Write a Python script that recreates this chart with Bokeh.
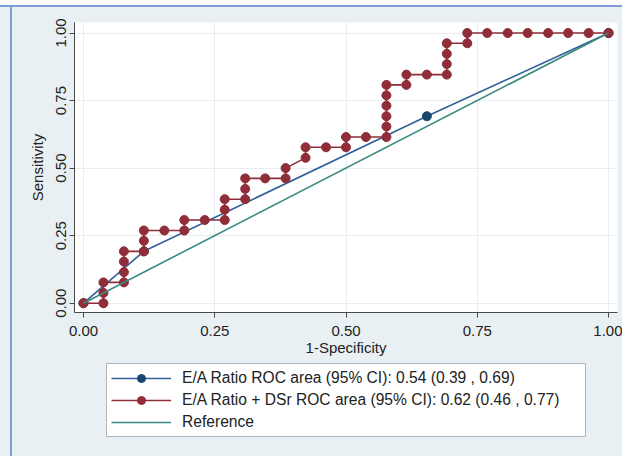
from bokeh.plotting import figure
from bokeh.layouts import column
from bokeh.models import Legend, LegendItem, Range1d, FixedTicker
from bokeh.embed import file_html
from bokeh.resources import INLINE

# ---- data ----
tick_values = [0.0, 0.25, 0.5, 0.75, 1.0]
tick_labels = ["0.00", "0.25", "0.50", "0.75", "1.00"]

# E/A Ratio ROC curve (1-specificity, sensitivity)
ea_fpr = [0.0, 0.115, 0.654, 1.0]
ea_tpr = [0.0, 0.192, 0.692, 1.0]

# E/A Ratio + DSr ROC curve
dsr_fpr = [0.0, 0.038, 0.038, 0.038, 0.077, 0.077, 0.077, 0.077, 0.115, 0.115,
           0.115, 0.154, 0.192, 0.192, 0.231, 0.269, 0.269, 0.269, 0.308, 0.308,
           0.308, 0.346, 0.385, 0.385, 0.423, 0.423, 0.462, 0.5, 0.5, 0.538,
           0.577, 0.577, 0.577, 0.577, 0.577, 0.577, 0.615, 0.615, 0.654, 0.692,
           0.692, 0.692, 0.692, 0.731, 0.731, 0.769, 0.808, 0.846, 0.885, 0.923,
           0.962, 1.0]
dsr_tpr = [0.0, 0.0, 0.038, 0.077, 0.077, 0.115, 0.154, 0.192, 0.192, 0.231,
           0.269, 0.269, 0.269, 0.308, 0.308, 0.308, 0.346, 0.385, 0.385, 0.423,
           0.462, 0.462, 0.462, 0.5, 0.538, 0.577, 0.577, 0.577, 0.615, 0.615,
           0.615, 0.654, 0.692, 0.731, 0.769, 0.808, 0.808, 0.846, 0.846, 0.846,
           0.885, 0.923, 0.962, 0.962, 1.0, 1.0, 1.0, 1.0, 1.0, 1.0,
           1.0, 1.0]

ref_x = [0.0, 1.0]
ref_y = [0.0, 1.0]

legend_labels = [
    "E/A Ratio ROC area (95% CI): 0.54 (0.39 , 0.69)",
    "E/A Ratio + DSr ROC area (95% CI): 0.62 (0.46 , 0.77)",
    "Reference",
]
x_title = "1-Specificity"
y_title = "Sensitivity"

# ---- styles ----
PANEL = "#e9f0f3"
EDGE = "#7f9dd9"
BLUE_LINE = "#33619a"
BLUE_MARK = "#1a476f"
RED = "#8f2d38"
TEAL = "#3a8a80"
FONT = "Liberation Sans"

LEFT_EDGE = ("linear-gradient(to right, " + PANEL + " 0px, " + PANEL + " 10px, " + EDGE
             + " 10px, " + EDGE + " 12px, " + PANEL + " 12px)")
TOP_EDGE = ("linear-gradient(to bottom, #ffffff 0px, #ffffff 5px, " + EDGE + " 5px, "
            + EDGE + " 7px, rgba(0,0,0,0) 7px)")


def style_curves(fig):
    r1 = fig.line(ea_fpr, ea_tpr, line_color=BLUE_LINE, line_width=1.6)
    r2 = fig.scatter(ea_fpr, ea_tpr, size=9, fill_color=BLUE_MARK, line_color=BLUE_MARK)
    r3 = fig.line(dsr_fpr, dsr_tpr, line_color=RED, line_width=1.6)
    r4 = fig.scatter(dsr_fpr, dsr_tpr, size=9, fill_color=RED, line_color=RED)
    r5 = fig.line(ref_x, ref_y, line_color=TEAL, line_width=1.6)
    return r1, r2, r3, r4, r5


# ---- main plot ----
p = figure(width=622, height=360, output_backend="svg", toolbar_location=None,
           x_range=Range1d(-0.0171, 1.0171), y_range=Range1d(-0.0344, 1.0389),
           min_border_left=74, min_border_right=5, min_border_top=22,
           min_border_bottom=48)
p.border_fill_alpha = 0
p.background_fill_color = "white"
p.outline_line_color = None
p.styles = {"background-image": TOP_EDGE + ", " + LEFT_EDGE}

for ax in (p.xaxis[0], p.yaxis[0]):
    ax.ticker = FixedTicker(ticks=tick_values)
    ax.major_label_overrides = dict(zip(tick_values, tick_labels))
    ax.axis_line_color = "#4a4a4a"
    ax.major_tick_line_color = "#4a4a4a"
    ax.major_tick_out = 5
    ax.major_tick_in = 0
    ax.minor_tick_line_color = None
    ax.major_label_text_font = FONT
    ax.major_label_text_font_size = "15px"
    ax.major_label_text_color = "#222222"
    ax.axis_label_text_font = FONT
    ax.axis_label_text_font_size = "15px"
    ax.axis_label_text_font_style = "normal"
    ax.axis_label_text_color = "#222222"

p.xaxis.axis_label = x_title
p.yaxis.axis_label = y_title
p.xaxis.major_label_standoff = 8
p.xaxis.axis_label_standoff = 0
p.yaxis.major_label_standoff = 3
p.yaxis.axis_label_standoff = 8
p.yaxis.major_label_orientation = "vertical"

p.xgrid.ticker = FixedTicker(ticks=tick_values)
p.ygrid.ticker = FixedTicker(ticks=tick_values)
p.grid.grid_line_color = "#e6eef1"
p.grid.grid_line_width = 1

style_curves(p)

# ---- legend strip (same series, drawn outside its view so only the key shows) ----
q = figure(width=622, height=96, output_backend="svg", toolbar_location=None,
           x_range=Range1d(10, 11), y_range=Range1d(10, 11),
           x_axis_location=None, y_axis_location=None,
           min_border_left=0, min_border_right=0, min_border_top=0, min_border_bottom=0)
q.border_fill_alpha = 0
q.background_fill_alpha = 0
q.outline_line_color = None
q.grid.visible = False
q.styles = {"background-image": LEFT_EDGE}
qr = style_curves(q)

legend = Legend(items=[
    LegendItem(label=legend_labels[0], renderers=[qr[0], qr[1]]),
    LegendItem(label=legend_labels[1], renderers=[qr[2], qr[3]]),
    LegendItem(label=legend_labels[2], renderers=[qr[4]]),
], location=(32, 19), orientation="vertical")
legend.border_line_color = "#6b6b6b"
legend.border_line_width = 1
legend.background_fill_color = "white"
legend.background_fill_alpha = 1
legend.padding = 4
legend.spacing = 2
legend.margin = 0
legend.glyph_width = 60
legend.glyph_height = 20
legend.label_height = 20
legend.label_standoff = 11
legend.label_width = 399
legend.label_text_font = FONT
legend.label_text_font_size = "15.6px"
legend.label_text_color = "#222222"
q.add_layout(legend, "center")

layout = column(p, q, spacing=0)
open("out.html", "w").write(file_html(layout, INLINE))
